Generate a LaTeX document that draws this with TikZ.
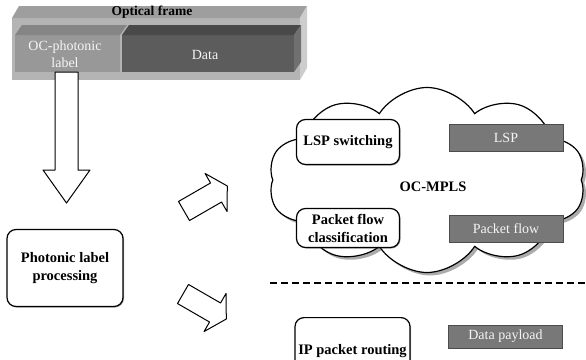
\documentclass[tikz,border=0pt]{standalone}
\usepackage{fontspec}
\setmainfont{Liberation Serif}
\usetikzlibrary{shapes.symbols,shadows}
\definecolor{framefront}{HTML}{B4B4B4}
\definecolor{frametop}{HTML}{9E9E9E}
\definecolor{frameside}{HTML}{CDCDCD}
\definecolor{labelfront}{HTML}{989898}
\definecolor{labeltop}{HTML}{858585}
\definecolor{datafront}{HTML}{5C5C5C}
\definecolor{datatop}{HTML}{494949}
\definecolor{dataside}{HTML}{707070}
\definecolor{boxgray}{HTML}{787878}
\begin{document}
\begin{tikzpicture}[x=1pt,y=-1pt,font=\fontsize{14}{17}\selectfont,
        procbox/.style={draw,line width=1.2pt,rounded corners=9pt,fill=white,align=center,
                font=\bfseries\fontsize{14.5}{18}\selectfont,
                drop shadow={shadow xshift=1pt,shadow yshift=-1pt,fill=black!70}},
        databox/.style={draw=black!70,fill=boxgray,text=white!92!gray,minimum width=114pt,minimum height=27pt,inner sep=0pt},
        blockarrow/.style={draw,line width=1pt,fill=white,line join=round}]
    \useasboundingbox (0,0) rectangle (586,359);
    \clip (0,0) rectangle (586,359);
    % optical frame
    \fill[framefront] (12,18) rectangle (300,80);
    \fill[frametop] (12,18) -- (19,6) -- (307,6) -- (300,18) -- cycle;
    \fill[frameside] (300,18) -- (307,6) -- (307,68) -- (300,80) -- cycle;
    \fill[datafront] (122,35) rectangle (294,72);
    \fill[datatop] (122,35) -- (129,25) -- (301,25) -- (294,35) -- cycle;
    \fill[dataside] (294,35) -- (301,25) -- (301,62) -- (294,72) -- cycle;
    \fill[labelfront] (15,35) rectangle (120,72);
    \fill[labeltop] (15,35) -- (22,25) -- (127,25) -- (120,35) -- cycle;
    \node[font=\bfseries\fontsize{13.5}{15}\selectfont] (optframe) at (152,12.5) {Optical frame};
    \node[text=white!92!gray,align=center,font=\fontsize{14}{17}\selectfont] (oclabel) at (65,54) {OC-photonic\\label};
    \node[text=white!92!gray] (data) at (205,55) {Data};
    % arrows
    \draw[blockarrow] (55,72) -- (78,72) -- (78,170) -- (90,170) -- (66.5,203) -- (43,170) -- (55,170) -- cycle;
    \begin{scope}[shift={(184,211)},rotate=30]
        \draw[blockarrow] (0,-11) -- (37,-11) -- (37,-22) -- (50,0) -- (37,22) -- (37,11) -- (0,11) -- cycle;
    \end{scope}
    \begin{scope}[shift={(183,294)},rotate=-30]
        \draw[blockarrow] (0,-11) -- (37,-11) -- (37,-22) -- (50,0) -- (37,22) -- (37,11) -- (0,11) -- cycle;
    \end{scope}
    \node[procbox,minimum width=116pt,minimum height=77pt] (plp) at (65,268) {Photonic label\\processing};
    % OC-MPLS cloud
    \node[cloud,cloud puffs=10,cloud puff arc=115,aspect=1.7,draw,line width=1.2pt,fill=white,
        minimum width=317pt,minimum height=185pt,
        drop shadow={shadow xshift=3pt,shadow yshift=-3pt,fill=black!55,opacity=0.6}] (mpls) at (427,180) {};
    \node[font=\bfseries\fontsize{14.5}{17}\selectfont] (mplstext) at (433,187) {OC-MPLS};
    \node[procbox,minimum width=103pt,minimum height=45pt] (lspsw) at (348,142) {LSP switching};
    \node[procbox,minimum width=103pt,minimum height=39pt] (pfc) at (348,228) {Packet flow\\classification};
    \node[databox] (lsp) at (506,138) {LSP};
    \node[databox] (pflow) at (506,229) {Packet flow};
    % IP layer
    \coordinate (dashl) at (270,283);
    \coordinate (dashr) at (586,283);
    \draw[line width=1.3pt,dash pattern=on 7pt off 4pt] (dashl) -- (dashr);
    \node[procbox,anchor=north,minimum width=115pt,minimum height=60pt] (iproute) at (352.5,317) {};
    \node[font=\bfseries\fontsize{14.5}{18}\selectfont] (iptext) at ([yshift=-34pt]iproute.north) {IP packet routing};
    \node[databox,minimum height=23pt] (payload) at (505.5,336.5) {Data payload};
\end{tikzpicture}
\end{document}
